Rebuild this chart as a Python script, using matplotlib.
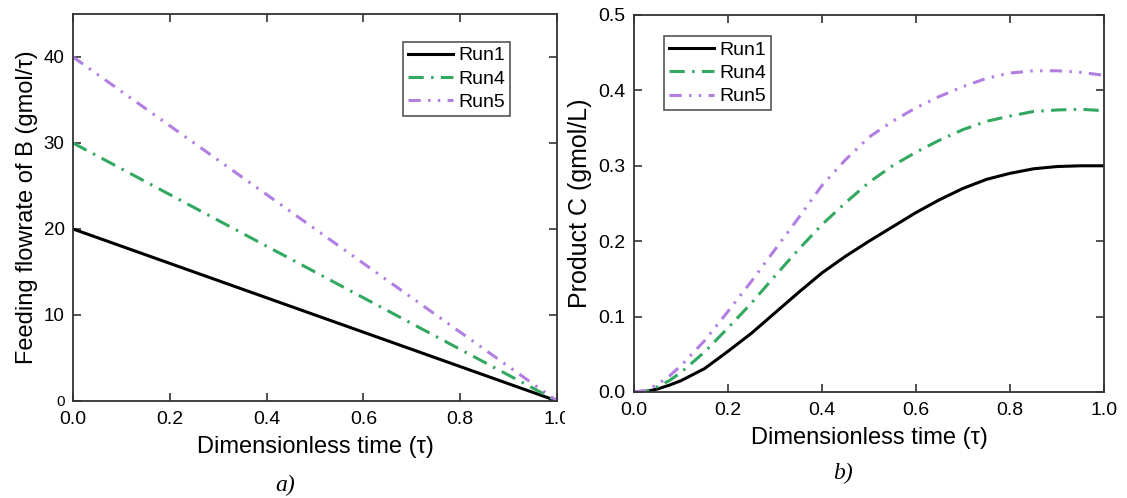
import matplotlib
matplotlib.use("Agg")
import matplotlib.pyplot as plt
from matplotlib.transforms import Bbox, TransformedBbox

plt.rcParams['font.family'] = ['Liberation Sans', 'DejaVu Sans']

# Panel a) data
tau_a = [0.0, 1.0]
feed_run1 = [20, 0]
feed_run4 = [30, 0]
feed_run5 = [40, 0]

# Panel b) data
tau_b = [0, .025, .05, .075, .1, .15, .2, .25, .3, .35, .4, .45, .5, .55, .6, .65, .7, .75, .8, .85, .9, .95, 1.0]
prod_run1 = [0, .0005, .004, .009, .015, .031, .054, .078, .105, .132, .158, .180, .200, .219, .238, .255, .270, .282, .290, .296, .299, .300, .300]
prod_run4 = [0, .001, .007, .015, .026, .053, .085, .118, .154, .189, .222, .251, .278, .300, .318, .334, .348, .359, .366, .372, .374, .375, .373]
prod_run5 = [0, .002, .010, .021, .035, .068, .107, .147, .189, .231, .274, .308, .338, .359, .377, .392, .405, .416, .423, .426, .426, .424, .420]

labels = ['Run1', 'Run4', 'Run5']
colors = ['#000000', '#33a860', '#b27ee2']
dashes = [None, (5.0, 2.4, 0.8, 2.4), (4.0, 2.4, 0.8, 2.4, 0.8, 2.4)]
lw = 2.2

fig = plt.figure(figsize=(11.27, 4.98), dpi=100)
axa = fig.add_axes([0.0648, 0.1948, 0.4295, 0.7771])
axb = fig.add_axes([0.5626, 0.2129, 0.4170, 0.7570])

def draw(ax, x, ys):
    for y, lab, c, d in zip(ys, labels, colors, dashes):
        ln, = ax.plot(x, y, color=c, lw=lw, label=lab)
        if d is not None:
            ln.set_dashes(d)

draw(axa, tau_a, [feed_run1, feed_run4, feed_run5])
draw(axb, tau_b, [prod_run1, prod_run4, prod_run5])

for ax in (axa, axb):
    ax.set_xlim(0, 1)
    ax.set_xticks([0, 0.2, 0.4, 0.6, 0.8, 1.0])
    ax.set_xticklabels(['0.0', '0.2', '0.4', '0.6', '0.8', '1.0'])
    ax.tick_params(direction='in', top=True, right=True, length=6, width=1.2,
                   labelsize=14, colors='#333333', labelcolor='black', pad=6)
    ax.tick_params(axis='x', pad=7)
    for s in ax.spines.values():
        s.set_linewidth(1.3)
        s.set_color('#333333')

axa.set_xlabel('Dimensionless time (τ)', fontsize=17, labelpad=6)
axb.set_xlabel('Dimensionless time (τ)', fontsize=17, labelpad=6)

axa.set_ylim(0, 45)
axa.set_yticks([0, 10, 20, 30, 40])
axa.tick_params(axis='y', labelsize=13.5)
axa.get_yticklabels()[0].set_fontsize(11)
axa.set_ylabel('Feeding flowrate of B (gmol/τ)', fontsize=17, labelpad=4)

axb.set_ylim(0, 0.5)
axb.set_yticks([0, 0.1, 0.2, 0.3, 0.4, 0.5])
axb.set_yticklabels(['0.0', '0.1', '0.2', '0.3', '0.4', '0.5'])
axb.set_ylabel('Product C (gmol/L)', fontsize=18, labelpad=5)

# the "1.0" label of panel a) is cut by the neighbouring panel in the original
lab10 = axa.get_xticklabels()[-1]
lab10.set_clip_box(TransformedBbox(Bbox([[0, 0], [565 / 1127, 1]]), fig.transFigure))
lab10.set_clip_on(True)

for ax, anchor in ((axa, (0.682, 0.928)), (axb, (0.064, 0.944))):
    leg = ax.legend(loc='upper left', bbox_to_anchor=anchor, fontsize=14, fancybox=False,
                    framealpha=1, edgecolor='#555555', handlelength=2.3,
                    handletextpad=0.3, borderpad=0.25, labelspacing=0.3,
                    borderaxespad=0)
    leg.get_frame().set_linewidth(1.2)

fig.text(0.253, 0.004, 'a)', fontsize=17, style='italic', family='Liberation Serif',
         ha='center', va='bottom')
fig.text(0.748, 0.028, 'b)', fontsize=17, style='italic', family='Liberation Serif',
         ha='center', va='bottom')

fig.savefig('out.png', dpi=100)
